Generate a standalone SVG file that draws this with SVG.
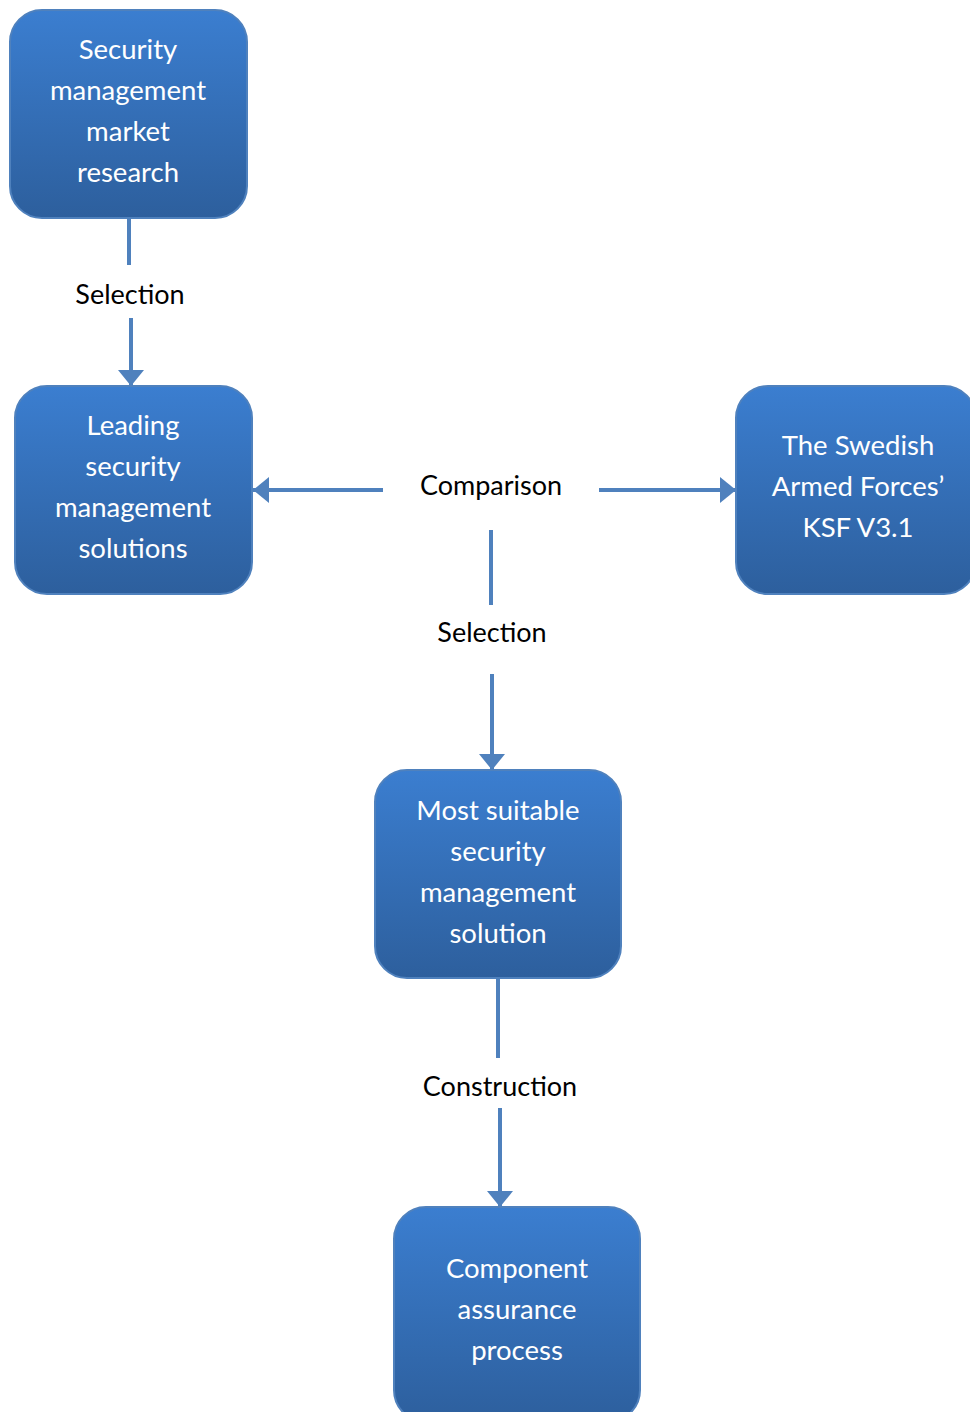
<svg xmlns="http://www.w3.org/2000/svg" width="970" height="1412" viewBox="0 0 970 1412">
  <style>
    .box { fill: url(#boxFill); stroke: #4f81bd; stroke-width: 2; }
    .btxt { font-family: Lato, "Liberation Sans", sans-serif; font-size: 27.5px; fill: #ffffff; text-anchor: middle; }
    .lbl { font-family: Lato, "Liberation Sans", sans-serif; font-size: 27px; fill: #000000; text-anchor: middle; }
    .wire { stroke: #4f81bd; stroke-width: 4; fill: none; }
    .wire-arrow { stroke: #4f81bd; stroke-width: 4; fill: none; marker-end: url(#tip); }
  </style>
  <defs>
    <linearGradient id="boxFill" x1="0" y1="0" x2="0" y2="1">
      <stop offset="0" stop-color="#3b7ed0"/>
      <stop offset="1" stop-color="#2d5f9d"/>
    </linearGradient>
    <marker id="tip" markerUnits="userSpaceOnUse" markerWidth="16" markerHeight="26" refX="16" refY="13" orient="auto">
      <path d="M0,0 L16,13 L0,26 Z" fill="#4f81bd"/>
    </marker>
  </defs>

  <rect width="970" height="1412" fill="#ffffff"/>

  <!-- connectors -->
  <g id="connectors">
    <line class="wire" x1="129" y1="218" x2="129" y2="265"/>
    <line class="wire-arrow" x1="131" y1="318" x2="131" y2="386"/>
    <line class="wire-arrow" x1="383" y1="490" x2="253" y2="490"/>
    <line class="wire-arrow" x1="599" y1="490" x2="736" y2="490"/>
    <line class="wire" x1="491" y1="530" x2="491" y2="605"/>
    <line class="wire-arrow" x1="492" y1="674" x2="492" y2="770"/>
    <line class="wire" x1="498" y1="978" x2="498" y2="1058"/>
    <line class="wire-arrow" x1="500" y1="1108" x2="500" y2="1207"/>
  </g>

  <!-- connector labels -->
  <g id="labels">
    <text class="lbl" x="130" y="304">Selection</text>
    <text class="lbl" x="491" y="495">Comparison</text>
    <text class="lbl" x="492" y="642">Selection</text>
    <text class="lbl" x="500" y="1096">Construction</text>
  </g>

  <g id="market-research">
    <rect class="box" x="10" y="10" width="237" height="208" rx="32"/>
    <text class="btxt" x="128" y="59">Security</text>
    <text class="btxt" x="128" y="100">management</text>
    <text class="btxt" x="128" y="141">market</text>
    <text class="btxt" x="128" y="182">research</text>
  </g>

  <g id="leading-solutions">
    <rect class="box" x="15" y="386" width="237" height="208" rx="32"/>
    <text class="btxt" x="133" y="435">Leading</text>
    <text class="btxt" x="133" y="476">security</text>
    <text class="btxt" x="133" y="517">management</text>
    <text class="btxt" x="133" y="558">solutions</text>
  </g>

  <g id="ksf">
    <rect class="box" x="736" y="386" width="240" height="208" rx="32"/>
    <text class="btxt" x="858" y="455">The Swedish</text>
    <text class="btxt" x="858" y="496">Armed Forces’</text>
    <text class="btxt" x="858" y="537">KSF V3.1</text>
  </g>

  <g id="most-suitable">
    <rect class="box" x="375" y="770" width="246" height="208" rx="32"/>
    <text class="btxt" x="498" y="820">Most suitable</text>
    <text class="btxt" x="498" y="861">security</text>
    <text class="btxt" x="498" y="902">management</text>
    <text class="btxt" x="498" y="943">solution</text>
  </g>

  <g id="component-assurance">
    <rect class="box" x="394" y="1207" width="246" height="215" rx="32"/>
    <text class="btxt" x="517" y="1278">Component</text>
    <text class="btxt" x="517" y="1319">assurance</text>
    <text class="btxt" x="517" y="1360">process</text>
  </g>
</svg>
